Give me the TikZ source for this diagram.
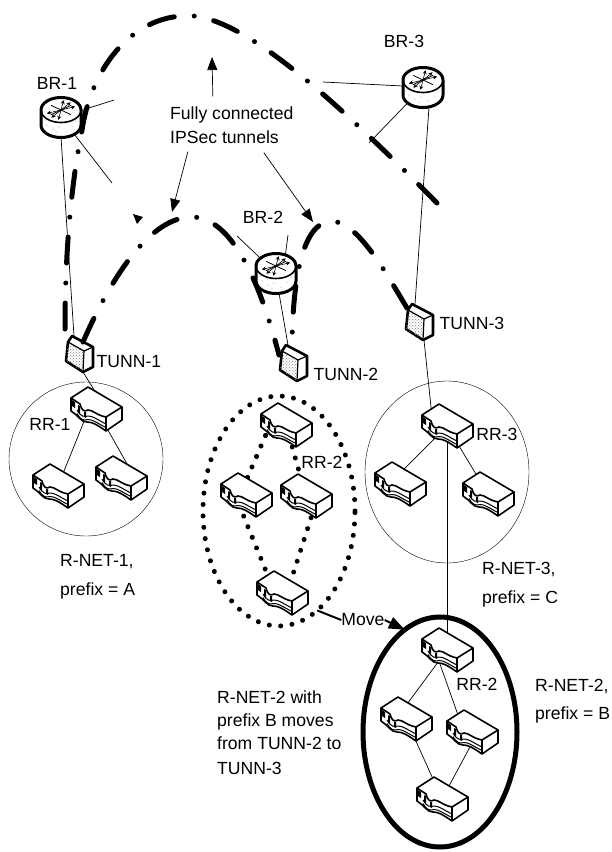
\documentclass[tikz,border=0pt]{standalone}
\usepackage{fontspec}
\setmainfont{Liberation Sans}
\usetikzlibrary{arrows.meta, shapes.geometric, patterns}

\tikzset{
    router/.pic={
        \draw[line width=3pt, fill=white] (-20,-7) arc[start angle=180, end angle=0, x radius=20pt, y radius=12.5pt]
            -- (20,8) arc[start angle=0, end angle=-180, x radius=20pt, y radius=12.5pt] -- cycle;
        \draw[line width=1.6pt] (-20,-7) arc[start angle=180, end angle=360, x radius=20pt, y radius=12.5pt];
        \foreach \a in {20,50,80,200,230,260}
            \draw[line width=.6pt, -{Stealth[length=4pt,width=4pt]}] (0,-7) -- ++(\a:15pt and 10pt);
        \foreach \a in {35,145,215,325}
            \draw[line width=.8pt] (0,-7) -- ++(\a:12pt and 8pt);
        \foreach \px/\py in {-14/8,-8/12,-2/10,5/14,11/9,15/4,-16/3,-4/15}
            \fill[gray] (\px,\py) circle (.5pt);
    },
    tunnbox/.pic={
        \draw[line width=2.6pt, fill=white, line join=round] (-7,-18) -- (14,-7) -- (14,13) -- (4,18) -- (-13,7) -- (-11,-12) -- cycle;
        \fill[pattern=crosshatch dots, pattern color=gray] (-11,-12) -- (5,-3) -- (4,18) -- (-13,7) -- cycle;
        \draw[line width=1.2pt] (-11,-12) -- (5,-3) -- (14,-7) (5,-3) -- (4,18);
    },
    rrbox/.pic={
        \draw[line width=1.6pt, fill=white, line join=round] (-8,-22) -- (26,-2) -- (26,11) -- (10,22)
            .. controls (0,15) and (-4,13) .. (-9,13) .. controls (-15,13) and (-16,8) .. (-25,2) -- (-25,-11) -- cycle;
        \draw[line width=1.6pt] (-25,-11) -- (-16,-5) .. controls (-14,2) and (-12,3) .. (-8,1)
            .. controls (-3,1) and (0,6) .. (10,8) -- (26,-2) (10,8) -- (10,22);
        \foreach \s in {3,6.5}
            \draw[line width=1pt] (-19,\s-2) .. controls (-15,\s+5) and (-12,\s+5) .. (-8,\s+4) .. controls (-3,\s+4) and (0,\s+7) .. (10,\s+12);
        \fill (-24,-9) -- (-21,-7) -- (-21,-1) -- (-24,-3) -- cycle;
        \fill (-18,-4) -- (-16,-3) -- (-16,4) -- (-18,3) -- cycle;
        \fill (-12,3) -- (-10,3) -- (-10,9) -- (-12,8) -- cycle;
    },
}

\begin{document}
\begin{tikzpicture}[
        x=1pt, y=-1pt,
        txt/.style={font=\fontsize{17.6}{19}\selectfont, align=left, inner sep=0pt},
        dev/.style={inner sep=0pt, outer sep=0pt, minimum width=52pt, minimum height=44pt},
        brnode/.style={inner sep=0pt, outer sep=0pt, minimum width=40pt, minimum height=40pt},
        tunnode/.style={inner sep=0pt, outer sep=0pt, minimum width=28pt, minimum height=36pt},
        netcircle/.style={ellipse, draw, thin, inner sep=0pt, outer sep=0pt},
        wire/.style={line width=.7pt},
        dotwire/.style={line width=5pt, line cap=round, dash pattern=on .01pt off 11.4pt},
        ipsec/.style={line width=5pt, line cap=round, dash pattern=on 26pt off 20pt on .01pt off 20pt},
        callout/.style={line width=.7pt, -{Triangle[length=13pt,width=10pt]}},
    ]
    \useasboundingbox (0,0) rectangle (612,852);

    \node[netcircle, minimum width=154pt, minimum height=154pt] (net1) at (86,459) {};
    \node[netcircle, minimum width=164pt, minimum height=182pt] (net3) at (447,472) {};
    \node[ellipse, inner sep=0pt, outer sep=0pt, minimum width=152pt, minimum height=230pt, draw, dotwire] (net2old) at (279,511) {};
    \node[ellipse, inner sep=0pt, outer sep=0pt, minimum width=154pt, minimum height=230pt, draw, line width=5pt] (net2new) at (440,732) {};

    \node[brnode] (br1) at (61,117) {};
    \node[brnode] (br2) at (276,273) {};
    \node[brnode] (br3) at (423,87) {};
    \node[tunnode] (tunn1) at (79,354) {};
    \node[tunnode] (tunn2) at (293,363) {};
    \node[tunnode] (tunn3) at (419,322) {};

    \node[dev] (rr1a) at (96,409) {};
    \node[dev] (rr1b) at (58,486) {};
    \node[dev] (rr1c) at (121,478) {};
    \node[dev] (rr2a) at (286,425) {};
    \node[dev] (rr2b) at (246,495) {};
    \node[dev] (rr2c) at (306,496) {};
    \node[dev] (rr2d) at (282,593) {};
    \node[dev] (rr3a) at (447,426) {};
    \node[dev] (rr3b) at (400,484) {};
    \node[dev] (rr3c) at (488,494) {};
    \node[dev] (rr4a) at (447,650) {};
    \node[dev] (rr4b) at (406,719) {};
    \node[dev] (rr4c) at (472,732) {};
    \node[dev] (rr4d) at (442,799) {};

    \coordinate (stub1a) at (114,100);
    \coordinate (stub1b) at (112,183);
    \coordinate (stub2a) at (237,236);
    \coordinate (stub2b) at (288,235);
    \coordinate (stub3a) at (323,82);
    \coordinate (stub3b) at (369,143);
    \coordinate (tip1) at (212,57);
    \coordinate (tip2) at (172,212);
    \coordinate (tip3) at (313,222);

    \draw[wire] (br1.center) -- (stub1a);
    \draw[wire] (br1.center) -- (stub1b);
    \draw[wire] (br2.center) -- (stub2a);
    \draw[wire] ([xshift=7pt]br2.center) -- (stub2b);
    \draw[wire] (br3.center) -- (stub3a);
    \draw[wire] (br3.center) -- (stub3b);
    \draw[wire] (br1.south) -- ([xshift=-5pt]tunn1.north);
    \draw[wire] ([xshift=3pt]br2.south) -- ([xshift=-5pt]tunn2.north);
    \draw[wire] ([xshift=6pt]br3.south) -- ([xshift=-4pt]tunn3.north);
    \draw[wire] ([xshift=4pt]tunn1.south) -- ([xshift=10pt]rr1a.center);
    \draw[wire] ([xshift=5pt]tunn3.south) -- ([xshift=-14pt]rr3a.center);

    \draw[wire] ([xshift=-7pt]rr1a.center) -- (rr1b.center);
    \draw[wire] (rr1a.center) -- ([xshift=14pt]rr1c.center);
    \draw[wire] (rr3a.center) -- ([xshift=-11pt]rr3b.center);
    \draw[wire] (rr3a.center) -- (rr3c.center);
    \draw[wire] (rr3a.center) -- (rr4a.center);
    \draw[wire] (rr4a.center) -- ([xshift=-10pt]rr4b.center);
    \draw[wire] ([xshift=-12pt]rr4a.center) -- ([xshift=-8pt]rr4c.center);
    \draw[wire] (rr4b.center) -- (rr4d.center);
    \draw[wire] ([xshift=6pt]rr4c.center) -- (rr4d.center);

    \draw[dotwire] ([xshift=-16pt]rr2a.center) -- ([xshift=-6pt]rr2b.center);
    \draw[dotwire] (rr2a.center) -- (rr2c.center);
    \draw[dotwire] ([xshift=-11pt]rr2b.center) -- ([xshift=-7pt]rr2d.center);
    \draw[dotwire] ([xshift=12pt]rr2c.center) -- ([xshift=5pt]rr2d.center);

    \foreach \n in {br1,br2,br3}
        \pic at (\n.center) {router};
    \foreach \n in {tunn1,tunn2,tunn3}
        \pic at (\n.center) {tunnbox};
    \foreach \n in {rr1a,rr1b,rr1c,rr2a,rr2b,rr2c,rr2d,rr3a,rr3b,rr3c,rr4a,rr4b,rr4c,rr4d}
        \pic at (\n.center) {rrbox};

    \coordinate (end1a) at (65,329);
    \coordinate (end1b) at (83,342);
    \coordinate (end2a) at (279,355);
    \coordinate (end2b) at (292,345);
    \coordinate (end3a) at (437,203);
    \coordinate (end3b) at (407,308);

    \draw[ipsec] (end1a) .. controls (65,260) and (70,190) .. (82,130)
        .. controls (92,65) and (135,12) .. (194,16)
        .. controls (250,22) and (340,105) .. (end3a);
    \draw[ipsec] (end1b) .. controls (110,280) and (150,215) .. (194,217)
        .. controls (235,220) and (262,290) .. (end2a);
    \draw[ipsec] (end3b) .. controls (390,280) and (362,228) .. (337,222)
        .. controls (305,215) and (293,270) .. (end2b);

    \node[txt] (lbr1) at (57,83) {BR-1};
    \node[txt] (lbr2) at (263,217) {BR-2};
    \node[txt] (lbr3) at (404,41) {BR-3};
    \node[txt] (ltunn1) at (129,362) {TUNN-1};
    \node[txt] (ltunn2) at (346,374) {TUNN-2};
    \node[txt] (ltunn3) at (472,323) {TUNN-3};
    \node[txt] (lrr1) at (50,424) {RR-1};
    \node[txt] (lrr2) at (322,462) {RR-2};
    \node[txt] (lrr3) at (497,434) {RR-3};
    \node[txt] (lrr4) at (477,684) {RR-2};
    \node[txt, anchor=west] (lnet1) at (60,577) {R-NET-1,\\[10pt]prefix = A};
    \node[txt, anchor=west] (lnet3) at (482,585) {R-NET-3,\\[10pt]prefix = C};
    \node[txt, anchor=west] (lnet2) at (535,701) {R-NET-2,\\[9pt]prefix = B};
    \node[txt, anchor=west] (lmoves) at (217,733) {R-NET-2 with\\[4pt]prefix B moves\\[4pt]from TUNN-2 to\\[6pt]TUNN-3};
    \node[txt] (lmove) at (363,620) {Move};
    \node[txt, anchor=west] (fully) at (170,125) {Fully connected\\[5pt]IPSec tunnels};

    \draw[callout] ([xshift=-19pt,yshift=10pt]fully.north) -- (tip1);
    \draw[callout] ([xshift=-44pt,yshift=-8pt]fully.south) -- (tip2);
    \draw[callout] ([xshift=32pt,yshift=-9pt]fully.south) -- (tip3);
    \fill (133,214) -- (143,217) -- (137,224) -- cycle;

    \draw[line width=2pt] (net2old.-69) -- (lmove.west);
    \draw[line width=2pt, -{Triangle[length=16pt,width=12pt]}] (lmove.east) -- (net2new.109);
\end{tikzpicture}
\end{document}
